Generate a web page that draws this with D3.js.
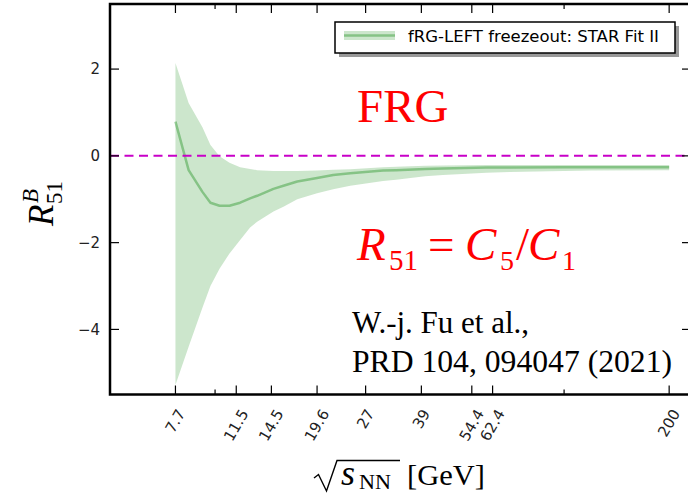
<!DOCTYPE html>
<html><head><meta charset="utf-8">
<script src="https://cdn.jsdelivr.net/npm/d3@7"></script>
<style>html,body{margin:0;padding:0;background:#fff;}svg{display:block;}</style>
</head><body>
<svg id="chart" width="688" height="495"></svg>
<script>
// ---- data ----
const xTicks = [7.7, 11.5, 14.5, 19.6, 27, 39, 54.4, 62.4, 200];
const xTickLabels = ["7.7", "11.5", "14.5", "19.6", "27", "39", "54.4", "62.4", "200"];
const xMinorTicks = [10, 100];
const yTicks = [-4, -2, 0, 2];
const yTickLabels = ["\u22124", "\u22122", "0", "2"];

const energy = [7.7, 8.4, 9.2, 9.7, 10.3, 11.0, 11.8, 12.6, 13.2, 14.7, 15.7, 17.2, 19.6, 21.8, 24.4, 30.3, 33, 40, 45, 60, 70, 100, 120, 200];
const r51Mean = [0.79, -0.33, -0.83, -1.08, -1.15, -1.15, -1.08, -0.98, -0.92, -0.76, -0.69, -0.59, -0.51, -0.44, -0.40, -0.34, -0.33, -0.30, -0.29, -0.27, -0.27, -0.26, -0.26, -0.26];
const r51Upper = [2.14, 1.22, 0.66, 0.25, -0.01, -0.16, -0.26, -0.30, -0.33, -0.35, -0.35, -0.35, -0.34, -0.32, -0.31, -0.26, -0.25, -0.23, -0.22, -0.21, -0.21, -0.21, -0.21, -0.21];
const r51Lower = [-5.28, -4.4, -3.5, -3.0, -2.6, -2.25, -1.94, -1.65, -1.52, -1.28, -1.17, -1.0, -0.86, -0.77, -0.69, -0.58, -0.55, -0.47, -0.44, -0.39, -0.37, -0.35, -0.34, -0.33];
const legendLabel = "fRG-LEFT freezeout: STAR Fit II";

// ---- layout ----
const svg = d3.select("#chart");
const L = 110, R = 691, T = 4, B = 394.5;
const x = d3.scaleLog().domain([5, 231]).range([L, R]);
const y = d3.scaleLinear().domain([-5.5, 3.5]).range([B, T]);
const sans = "'DejaVu Sans', sans-serif";
const serif = "'Liberation Serif', 'Times New Roman', serif";

const pts = energy.map((e, i) => ({e, m: r51Mean[i], lo: r51Lower[i], hi: r51Upper[i]}));

svg.append("clipPath").attr("id", "clip").append("rect")
  .attr("x", L).attr("y", T).attr("width", R - L).attr("height", B - T);
const plot = svg.append("g").attr("clip-path", "url(#clip)");

// band
plot.append("path").datum(pts)
  .attr("d", d3.area().x(d => x(d.e)).y0(d => y(d.lo)).y1(d => y(d.hi)))
  .attr("fill", "green").attr("fill-opacity", 0.2).attr("stroke", "none");
// mean line
plot.append("path").datum(pts)
  .attr("d", d3.line().x(d => x(d.e)).y(d => y(d.m)))
  .attr("fill", "none").attr("stroke", "green").attr("stroke-opacity", 0.35)
  .attr("stroke-width", 2.5).attr("stroke-linejoin", "round");
// zero line
plot.append("line").attr("x1", L).attr("x2", R).attr("y1", y(0)).attr("y2", y(0))
  .attr("stroke", "#c800c8").attr("stroke-width", 2).attr("stroke-dasharray", "9,5.5");

// ticks (inward, all four sides)
const tk = svg.append("g").attr("stroke", "#000").attr("stroke-width", 1.2);
xTicks.forEach(v => {
  tk.append("line").attr("x1", x(v)).attr("x2", x(v)).attr("y1", B).attr("y2", B - 9);
  tk.append("line").attr("x1", x(v)).attr("x2", x(v)).attr("y1", T).attr("y2", T + 9);
});
xMinorTicks.forEach(v => {
  tk.append("line").attr("x1", x(v)).attr("x2", x(v)).attr("y1", B).attr("y2", B - 5);
  tk.append("line").attr("x1", x(v)).attr("x2", x(v)).attr("y1", T).attr("y2", T + 5);
});
yTicks.forEach(v => {
  tk.append("line").attr("x1", L).attr("x2", L + 9).attr("y1", y(v)).attr("y2", y(v));
  tk.append("line").attr("x1", R).attr("x2", R - 9).attr("y1", y(v)).attr("y2", y(v));
});

// frame
svg.append("rect").attr("x", L).attr("y", T).attr("width", R - L).attr("height", B - T)
  .attr("fill", "none").attr("stroke", "#000").attr("stroke-width", 2.5);

// y tick labels
yTicks.forEach((v, i) => {
  svg.append("text").attr("x", 100).attr("y", y(v)).attr("dy", "0.36em")
    .attr("text-anchor", "end").attr("font-family", sans).attr("font-size", 15)
    .attr("fill", "#222").text(yTickLabels[i]);
});

// x tick labels rotated, bbox centred on tick, top at fixed y
const fsx = 15, ang = 60 * Math.PI / 180;
xTicks.forEach((v, i) => {
  const t = svg.append("text").attr("text-anchor", "middle").attr("dominant-baseline", "central")
    .attr("font-family", sans).attr("font-size", fsx).attr("fill", "#222").text(xTickLabels[i]);
  const len = t.node().getComputedTextLength();
  const H = 0.74 * fsx;
  const h = len * Math.sin(ang) + H * Math.cos(ang);
  t.attr("transform", `translate(${x(v)},${408 + h / 2}) rotate(-60)`);
});

// x axis label: sqrt(s_NN) [GeV]
const xl = svg.append("g");
xl.append("path").attr("d", "M314,478 L318.5,474.5 L326.5,491 L337,460.5 L400,460.5")
  .attr("fill", "none").attr("stroke", "#000").attr("stroke-width", 1.4);
xl.append("text").attr("x", 341).attr("y", 485).attr("font-family", serif)
  .attr("font-style", "italic").attr("font-size", 36).text("s");
xl.append("text").attr("x", 359).attr("y", 489).attr("font-family", serif)
  .attr("font-size", 20).attr("textLength", 32).attr("lengthAdjust", "spacingAndGlyphs").text("NN");
xl.append("text").attr("x", 407).attr("y", 485).attr("font-family", serif)
  .attr("font-size", 30).attr("textLength", 78).attr("lengthAdjust", "spacingAndGlyphs").text("[GeV]");

// y axis label: R^B_51
const yl = svg.append("g").attr("transform", "translate(53,226) rotate(-90)");
yl.append("text").attr("x", 0).attr("y", 0).attr("font-family", serif)
  .attr("font-style", "italic").attr("font-size", 35).text("R");
yl.append("text").attr("x", 23).attr("y", -15).attr("font-family", serif)
  .attr("font-style", "italic").attr("font-size", 23).text("B");
yl.append("text").attr("x", 22).attr("y", 9).attr("font-family", serif)
  .attr("font-size", 23).text("51");

// annotations
svg.append("text").attr("x", 357).attr("y", 122).attr("font-family", serif)
  .attr("font-size", 47).attr("fill", "#ff0000").text("FRG");
const an = svg.append("g").attr("fill", "#ff0000").attr("font-family", serif);
an.append("text").attr("x", 357).attr("y", 260).attr("font-style", "italic").attr("font-size", 47).text("R");
an.append("text").attr("x", 389).attr("y", 270).attr("font-size", 29).text("51");
an.append("text").attr("x", 428).attr("y", 260).attr("font-size", 47).text("=");
an.append("text").attr("x", 465).attr("y", 260).attr("font-style", "italic").attr("font-size", 47).text("C");
an.append("text").attr("x", 500).attr("y", 270).attr("font-size", 28).text("5");
an.append("text").attr("x", 516).attr("y", 260).attr("font-size", 47).text("/");
an.append("text").attr("x", 528).attr("y", 260).attr("font-style", "italic").attr("font-size", 47).text("C");
an.append("text").attr("x", 562).attr("y", 270).attr("font-size", 28).text("1");

svg.append("text").attr("x", 352).attr("y", 333).attr("font-family", serif)
  .attr("font-size", 31).attr("fill", "#000").text("W.-j. Fu et al.,");
svg.append("text").attr("x", 352).attr("y", 372).attr("font-family", serif)
  .attr("font-size", 31).attr("fill", "#000").attr("textLength", 320).attr("lengthAdjust", "spacingAndGlyphs")
  .text("PRD 104, 094047 (2021)");

// legend
const lg = svg.append("g");
lg.append("rect").attr("x", 339).attr("y", 26).attr("width", 340).attr("height", 31).attr("fill", "#999");
lg.append("rect").attr("x", 335).attr("y", 22).attr("width", 340).attr("height", 31)
  .attr("fill", "#fff").attr("stroke", "#000").attr("stroke-width", 1.5);
lg.append("line").attr("x1", 344).attr("x2", 395).attr("y1", 35.5).attr("y2", 35.5)
  .attr("stroke", "green").attr("stroke-opacity", 0.2).attr("stroke-width", 9);
lg.append("line").attr("x1", 344).attr("x2", 395).attr("y1", 35.5).attr("y2", 35.5)
  .attr("stroke", "green").attr("stroke-opacity", 0.35).attr("stroke-width", 2.5);
lg.append("text").attr("x", 408).attr("y", 42).attr("font-family", sans).attr("font-size", 16.5)
  .attr("fill", "#000").text(legendLabel);
</script>
</body></html>
